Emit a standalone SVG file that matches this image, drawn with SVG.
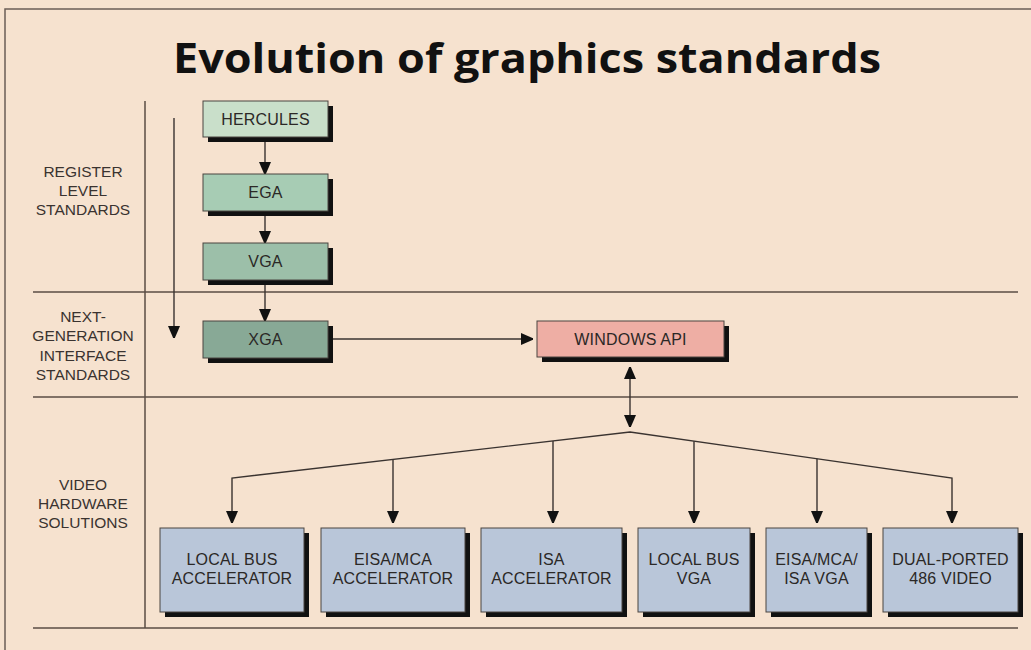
<svg xmlns="http://www.w3.org/2000/svg" width="1031" height="650" viewBox="0 0 1031 650">
<defs>
<marker id="ah" markerUnits="userSpaceOnUse" markerWidth="12" markerHeight="16" viewBox="0 0 12 16" refX="12" refY="6" orient="auto">
<path d="M0,0 L14,6 L0,12 Z" fill="#111"/>
</marker>
<marker id="ahs" markerUnits="userSpaceOnUse" markerWidth="12" markerHeight="16" viewBox="0 0 12 16" refX="0" refY="6" orient="auto">
<path d="M12,0 L-2,6 L12,12 Z" fill="#111"/>
</marker>
</defs>
<style>
.bg{fill:#f6e2cf}
.frame{fill:none;stroke:#6b5e57;stroke-width:1.5}
.sep{stroke:#5a4c45;stroke-width:1.5;fill:none}
.shadow{fill:#111}
.box{stroke:#4a4440;stroke-width:1}
.t{font-family:"Liberation Sans",Arial,sans-serif;font-size:16px;letter-spacing:0.2px;fill:#2b2826;text-anchor:middle}
.lbl{font-family:"Liberation Sans",Arial,sans-serif;font-size:15.5px;fill:#3a3330;text-anchor:middle}
.title{font-family:"Open Sans","Noto Sans",sans-serif;font-weight:700;font-size:42px;fill:#111;text-anchor:middle}
.c{stroke:#3a3330;stroke-width:1.4;fill:none}
.blue{fill:#b9c6d9}
</style>
<rect class="bg" x="0" y="0" width="1031" height="650"/>
<path class="frame" d="M5,650 V9 H1031"/>
<text class="title" x="527" y="73" textLength="708" lengthAdjust="spacingAndGlyphs">Evolution of graphics standards</text>

<g id="grid">
<line class="sep" x1="145" y1="101" x2="145" y2="628"/>
<line class="sep" x1="33" y1="292" x2="1018" y2="292"/>
<line class="sep" x1="33" y1="397" x2="1018" y2="397"/>
<line class="sep" x1="33" y1="628" x2="1018" y2="628"/>
</g>

<g id="label-register">
<text class="lbl" x="83" y="177">REGISTER</text>
<text class="lbl" x="83" y="196">LEVEL</text>
<text class="lbl" x="83" y="215">STANDARDS</text>
</g>
<g id="label-nextgen">
<text class="lbl" x="83" y="322">NEXT-</text>
<text class="lbl" x="83" y="341">GENERATION</text>
<text class="lbl" x="83" y="361">INTERFACE</text>
<text class="lbl" x="83" y="380">STANDARDS</text>
</g>
<g id="label-video">
<text class="lbl" x="83" y="490">VIDEO</text>
<text class="lbl" x="83" y="509">HARDWARE</text>
<text class="lbl" x="83" y="528">SOLUTIONS</text>
</g>

<g id="connectors">
<line class="c" x1="174" y1="118" x2="174" y2="338" marker-end="url(#ah)"/>
<line class="c" x1="265" y1="141" x2="265" y2="174" marker-end="url(#ah)"/>
<line class="c" x1="265" y1="216" x2="265" y2="243" marker-end="url(#ah)"/>
<line class="c" x1="265" y1="284" x2="265" y2="321" marker-end="url(#ah)"/>
<line class="c" x1="333" y1="339" x2="533" y2="339" marker-end="url(#ah)"/>
<line class="c" x1="630" y1="367" x2="630" y2="427" marker-start="url(#ahs)" marker-end="url(#ah)"/>
<polyline class="c" points="232,523 232,478 630,432 952,478 952,523" marker-start="url(#ahs)" marker-end="url(#ah)"/>
<line class="c" x1="393" y1="459.5" x2="393" y2="523" marker-end="url(#ah)"/>
<line class="c" x1="553" y1="441" x2="553" y2="523" marker-end="url(#ah)"/>
<line class="c" x1="694" y1="441.2" x2="694" y2="523" marker-end="url(#ah)"/>
<line class="c" x1="817" y1="458.8" x2="817" y2="523" marker-end="url(#ah)"/>
</g>

<g id="hercules">
<rect class="shadow" x="208" y="106" width="125" height="36"/>
<rect class="box" x="203" y="101" width="125" height="36" fill="#c9dfca"/>
<text class="t" x="265.5" y="124.5">HERCULES</text>
</g>
<g id="ega">
<rect class="shadow" x="208" y="179" width="125" height="37"/>
<rect class="box" x="203" y="174" width="125" height="37" fill="#a7ccb4"/>
<text class="t" x="265.5" y="198">EGA</text>
</g>
<g id="vga">
<rect class="shadow" x="208" y="248" width="125" height="37"/>
<rect class="box" x="203" y="243" width="125" height="37" fill="#9cbfa9"/>
<text class="t" x="265.5" y="267">VGA</text>
</g>
<g id="xga">
<rect class="shadow" x="208" y="326" width="125" height="37"/>
<rect class="box" x="203" y="321" width="125" height="37" fill="#88a996"/>
<text class="t" x="265.5" y="345">XGA</text>
</g>
<g id="windows-api">
<rect class="shadow" x="542" y="326" width="187" height="36"/>
<rect class="box" x="537" y="321" width="187" height="36" fill="#eeaea4"/>
<text class="t" x="630.5" y="344.5">WINDOWS API</text>
</g>

<g id="local-bus-accelerator">
<rect class="shadow" x="165" y="533" width="144" height="84"/>
<rect class="box blue" x="160" y="528" width="144" height="84"/>
<text class="t" x="232" y="565">LOCAL BUS</text>
<text class="t" x="232" y="584">ACCELERATOR</text>
</g>
<g id="eisa-mca-accelerator">
<rect class="shadow" x="326" y="533" width="144" height="84"/>
<rect class="box blue" x="321" y="528" width="144" height="84"/>
<text class="t" x="393" y="565">EISA/MCA</text>
<text class="t" x="393" y="584">ACCELERATOR</text>
</g>
<g id="isa-accelerator">
<rect class="shadow" x="486" y="533" width="141" height="84"/>
<rect class="box blue" x="481" y="528" width="141" height="84"/>
<text class="t" x="551.5" y="565">ISA</text>
<text class="t" x="551.5" y="584">ACCELERATOR</text>
</g>
<g id="local-bus-vga">
<rect class="shadow" x="643" y="533" width="112" height="84"/>
<rect class="box blue" x="638" y="528" width="112" height="84"/>
<text class="t" x="694" y="565">LOCAL BUS</text>
<text class="t" x="694" y="584">VGA</text>
</g>
<g id="eisa-mca-isa-vga">
<rect class="shadow" x="771" y="533" width="101" height="84"/>
<rect class="box blue" x="766" y="528" width="101" height="84"/>
<text class="t" x="816.5" y="565">EISA/MCA/</text>
<text class="t" x="816.5" y="584">ISA VGA</text>
</g>
<g id="dual-ported-486-video">
<rect class="shadow" x="888" y="533" width="135" height="84"/>
<rect class="box blue" x="883" y="528" width="135" height="84"/>
<text class="t" x="950.5" y="565">DUAL-PORTED</text>
<text class="t" x="950.5" y="584">486 VIDEO</text>
</g>
</svg>
